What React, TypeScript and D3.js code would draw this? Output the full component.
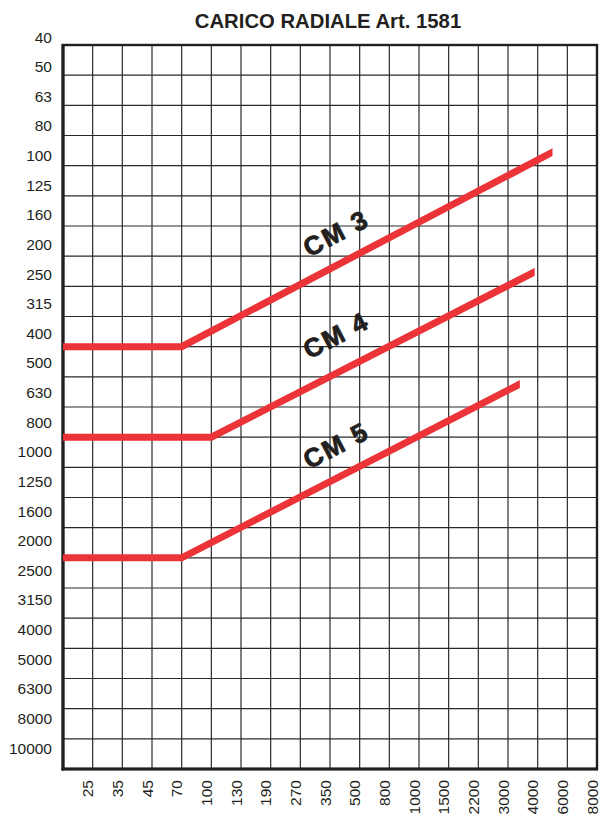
import React from "react";
import * as d3 from "d3";

// ---- data ----
const title = "CARICO RADIALE Art. 1581";
const xTicks = [25, 35, 45, 70, 100, 130, 190, 270, 350, 500, 800, 1000, 1500, 2200, 3000, 4000, 6000, 8000];
const yTicks = [40, 50, 63, 80, 100, 125, 160, 200, 250, 315, 400, 500, 630, 800, 1000, 1250, 1600, 2000, 2500, 3150, 4000, 5000, 6300, 8000, 10000];
const X_MIN = 15; // left edge of the grid (one step before 25)

const seriesNames = ["CM 3", "CM 4", "CM 5"];
const seriesX = [
  [X_MIN, 70, 5000],
  [X_MIN, 100, 3900],
  [X_MIN, 70, 3400],
];
const seriesY = [
  [400, 400, 91],
  [800, 800, 226],
  [2000, 2000, 531],
];
const labelX = [380, 380, 380];
const labelY = [169, 367, 852];

// ---- layout ----
const W = 600;
const H = 814;
const left = 63;
const right = 597;
const top = 45;
const bottom = 769;

export default function App() {
  const nCols = xTicks.length; // 18 columns
  const nRows = yTicks.length - 1; // 24 rows

  // value -> grid index (polylinear), index -> pixel
  const xIdx = d3.scaleLinear().domain([X_MIN, ...xTicks]).range(d3.range(0, nCols + 1));
  const xPix = d3.scaleLinear().domain([0, nCols]).range([left, right]);
  const yIdx = d3.scaleLinear().domain(yTicks).range(d3.range(0, yTicks.length));
  const yPix = d3.scaleLinear().domain([0, nRows]).range([top, bottom]);
  const yLabelPix = d3.scaleLinear().domain([0, yTicks.length - 1]).range([37, 748]);

  const sx = (v: number) => xPix(xIdx(v));
  const sy = (v: number) => yPix(yIdx(v));

  const line = d3
    .line<[number, number]>()
    .x((d) => sx(d[0]))
    .y((d) => sy(d[1]));

  const red = "#ec3338";
  const ink = "#231f20";
  const font = "'Liberation Sans', Arial, Helvetica, sans-serif";
  const angle = (-Math.atan((sy(400) - sy(91)) / (sx(5000) - sx(70))) * 180) / Math.PI;

  const vLines = d3.range(1, nCols);
  const hLines = d3.range(1, nRows);

  return (
    <svg
      width={W}
      height={H}
      style={{ position: "absolute", left: 0, top: 0, background: "#fff" }}
      fontFamily={font}
    >
      <defs>
        {seriesNames.map((n, i) => (
          <clipPath id={`clip${i}`} key={n}>
            <rect x={left} y={0} width={sx(seriesX[i][seriesX[i].length - 1]) - left} height={H} />
          </clipPath>
        ))}
      </defs>
      <text x={328} y={28} textAnchor="middle" fontWeight="bold" fontSize={20.3} fill={ink}>
        {title}
      </text>

      {/* grid */}
      <g stroke="#2a2a2a" strokeWidth={1.2}>
        {vLines.map((i) => (
          <line key={`v${i}`} x1={xPix(i)} x2={xPix(i)} y1={top} y2={bottom} />
        ))}
        {hLines.map((i) => (
          <line key={`h${i}`} x1={left} x2={right} y1={yPix(i)} y2={yPix(i)} />
        ))}
      </g>
      <rect x={left} y={top} width={right - left} height={bottom - top} fill="none" stroke={ink} strokeWidth={2.4} />
      <line x1={left} x2={left} y1={top - 1} y2={bottom + 1.5} stroke={ink} strokeWidth={3.2} />
      <line x1={left - 1.5} x2={right + 1} y1={bottom} y2={bottom} stroke={ink} strokeWidth={3.2} />

      {/* y labels */}
      <g fontSize={15.5} fill={ink} textAnchor="end">
        {yTicks.map((t, i) => (
          <text key={t} x={52} y={yLabelPix(i)} dy="0.36em">
            {t}
          </text>
        ))}
      </g>

      {/* x labels */}
      <g fontSize={15.5} fill={ink} textAnchor="end">
        {xTicks.map((t) => (
          <text key={t} transform={`translate(${sx(t) + 0.5},780) rotate(-90)`}>
            {t}
          </text>
        ))}
      </g>

      {/* curves */}
      {seriesNames.map((n, i) => (
        <path
          key={n}
          d={line(seriesX[i].map((x, j) => [x, seriesY[i][j]] as [number, number])) || ""}
          fill="none"
          stroke={red}
          strokeWidth={7}
          strokeLinecap="square"
          strokeLinejoin="miter"
          clipPath={`url(#clip${i})`}
        />
      ))}

      {/* curve labels */}
      {seriesNames.map((n, i) => (
        <text
          key={`l${n}`}
          transform={`translate(${sx(labelX[i])},${sy(labelY[i])}) rotate(${angle})`}
          textAnchor="middle"
          dy="0.36em"
          fontWeight="bold"
          fontSize={26}
          letterSpacing={2}
          fill={ink}
          stroke={ink}
          strokeWidth={0.8}
        >
          {n}
        </text>
      ))}
    </svg>
  );
}
